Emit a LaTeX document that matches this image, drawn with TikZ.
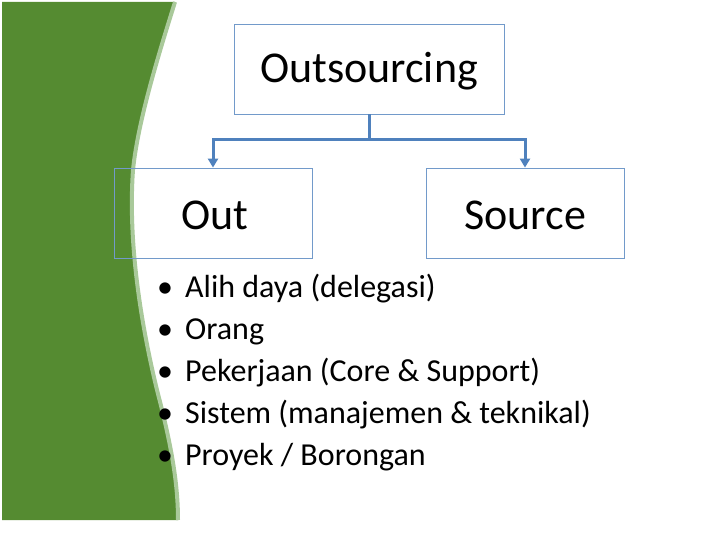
\documentclass[tikz,border=0pt]{standalone}
\usepackage{fontspec}
\setmainfont{Carlito}
\usetikzlibrary{arrows.meta}
\definecolor{grn}{HTML}{558B31}
\definecolor{lgrn}{HTML}{A9C99A}
\definecolor{bl}{HTML}{4F81BD}
\begin{document}
\begin{tikzpicture}[x=1pt,y=-1pt,
  box/.style={draw=bl!80,line width=0.8pt,minimum width=#1,minimum height=90pt,inner sep=0pt},
  conn/.style={draw=bl,line width=3pt,-{Triangle[length=9pt,width=10pt]}},
  item/.style={anchor=base west,font=\fontsize{32}{36}\selectfont,inner sep=0pt}]
\useasboundingbox (0,0) rectangle (720,540);
\fill[grn] (2,2) -- (175,2) .. controls (160,50) and (138,120) .. (133,170)
  .. controls (128,240) and (140,320) .. (157,390)
  .. controls (170,440) and (178,480) .. (178,520) -- (2,520) -- cycle;
\draw[lgrn,line width=4pt] (175,2) .. controls (160,50) and (138,120) .. (133,170)
  .. controls (128,240) and (140,320) .. (157,390)
  .. controls (170,440) and (178,480) .. (178,520);
\node[box=270pt] (top) at (369,69) {};
\node[font=\fontsize{44}{48}\selectfont] (tt) at (369,71) {Outsourcing};
\node[box=198pt] (out) at (213,213) {};
\node[font=\fontsize{44}{48}\selectfont,anchor=west,inner sep=0pt] (ot) at (181,215) {Out};
\node[box=198pt] (src) at (525,213) {};
\node[font=\fontsize{44}{48}\selectfont,anchor=west,inner sep=0pt] (st) at (464,215) {Source};
\coordinate (j) at (369,140);
\draw[bl,line width=3pt] (top.south) -- (j);
\draw[conn] (j) -| (out.north);
\draw[conn] (j) -| (src.north);
\foreach \t [count=\i] in {Alih daya (delegasi),Orang,Pekerjaan (Core \& Support),Sistem (manajemen \& teknikal),Proyek / Borongan}{
  \node[item] (b\i) at (157,{255+42*\i}) {•};
  \node[item] (t\i) at (185,{255+42*\i}) {\t};
}
\end{tikzpicture}
\end{document}
